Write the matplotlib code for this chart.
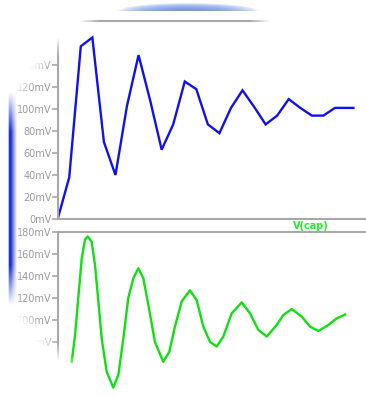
import numpy as np
import matplotlib
matplotlib.use("Agg")
import matplotlib.pyplot as plt

# stepped transient (top pane), values in mV
blue_t = [0, 1, 2, 3, 4, 5, 6, 7, 8, 9, 10, 11, 12, 13, 14, 15, 16, 17, 18, 19,
          20, 21, 22, 23, 24, 25.6]
blue_mv = [0, 38, 157, 165, 70, 40, 103, 149, 108, 63, 86, 125, 118, 86, 78, 101,
           117, 102, 86, 94, 109, 101, 94, 94, 101, 101]

# V(cap) (bottom pane), values in mV
cap_t = [1.21, 1.50, 1.78, 2.08, 2.36, 2.60, 2.94, 3.23, 3.52, 3.81, 4.24, 4.81,
         5.25, 5.68, 6.11, 6.55, 6.98, 7.41, 7.84, 8.42, 9.14, 9.66, 10.15, 10.74,
         11.45, 12.03, 12.61, 13.19, 13.77, 14.34, 15.06, 15.93, 16.65, 17.37,
         18.10, 18.96, 19.53, 20.26, 21.13, 21.85, 22.57, 23.43, 24.16, 24.87]
cap_mv = [62, 86, 120, 156, 173, 176, 171, 150, 117, 83, 53, 38.5, 50, 83, 120,
          138, 147, 138, 114, 80, 62, 71, 94, 117, 127, 118, 94, 80, 76, 85, 106,
          116, 106, 91, 85, 95.5, 104.5, 110, 103, 94, 90, 95.5, 101.5, 105]

top_ticks = [0, 20, 40, 60, 80, 100, 120, 140]
bot_ticks = [40, 60, 80, 100, 120, 140, 160, 180]
trace_name = "V(cap)"

W, H = 366, 397
grey = "#a8a8a8"

fig = plt.figure(figsize=(W / 100, H / 100), dpi=100)
fig.patch.set_facecolor("white")


def style_pane(ax, ticks):
    ax.set_xlim(0, 26.69)
    ax.set_ylim(0, 180)
    ax.set_xticks([])
    ax.set_yticks(ticks)
    ax.set_yticklabels(["%dmV" % v for v in ticks])
    ax.tick_params(axis="y", length=4, width=1.2, color=grey, pad=0.5,
                   labelsize=7, labelcolor="#9a9a9a")
    for s in ax.spines.values():
        s.set_color(grey)
        s.set_linewidth(1.5)
    ax.spines["right"].set_visible(False)


# top pane
ax1 = fig.add_axes([57.7 / W, 1 - 219 / H, 1 - 57.7 / W, 198 / H])
ax1.plot(blue_t, blue_mv, color="#1010f4", lw=1.7, solid_joinstyle="miter")
style_pane(ax1, top_ticks)

# bottom pane
ax2 = fig.add_axes([57.7 / W, 1 - 430 / H, 1 - 57.7 / W, 198 / H])
ax2.plot(cap_t, cap_mv, color="#10e010", lw=1.7, solid_joinstyle="round")
style_pane(ax2, bot_ticks)
ax2.spines["bottom"].set_visible(False)

fig.text(311 / W, 1 - 226 / H, trace_name, color="#22ee22", fontsize=7,
         fontweight="bold", ha="center", va="center")

# soft torn-edge overlay
yy, xx = np.mgrid[0:H, 0:W] + 0.5
knot_y = [0, 21, 48, 65, 87, 105, 300, 321, 343, 365, 380, 397]
knot_x = [100, 80, 45, 32, 14, 2, 2, 20, 38, 62, 78, 95]
xb = np.interp(yy, knot_y, knot_x)
a_left = np.clip((xb + 20 - xx) / 20, 0, 1)
a_tr = np.clip((xx - 250) / 20, 0, 1) * np.clip((30 - yy) / 8, 0, 1)
a_white = np.maximum(a_left, a_tr)

rgba = np.ones((H, W, 4))
rgba[..., 3] = a_white

# blue glow at the top edge
d = ((xx - 188) / 70) ** 2 + ((yy - 11) / 8) ** 2
glow = np.where((d < 1) & (yy < 11), (1 - np.clip(d, 0, 1)) ** 0.7 * 0.85, 0)
line = np.where(np.abs(yy - 10.5) < 1, np.clip(1 - np.abs(xx - 188) / 75, 0, 1) * 0.6, 0)

# blue bar on the left edge
hprof = np.clip((17.5 - xx) / 6.5, 0, 1) ** 1.3 * np.clip((xx - 8) / 1.5, 0, 1)
vprof = np.clip((yy - 92) / 40, 0, 1) * np.clip((305 - yy) / 40, 0, 1)
bar = hprof * vprof * 0.95


def over(img, color, alpha):
    c = np.array(color) / 255.0
    a0 = img[..., 3]
    out_a = alpha + a0 * (1 - alpha)
    safe = np.where(out_a > 0, out_a, 1)
    for k in range(3):
        img[..., k] = (c[k] * alpha + img[..., k] * a0 * (1 - alpha)) / safe
    img[..., 3] = out_a


over(rgba, (95, 135, 228), glow)
over(rgba, (150, 150, 150), line)
over(rgba, (15, 40, 205), bar)

ov = fig.add_axes([0, 0, 1, 1])
ov.imshow(rgba, extent=[0, 1, 0, 1], aspect="auto", interpolation="bilinear")
ov.set_xlim(0, 1)
ov.set_ylim(0, 1)
ov.axis("off")
ov.set_zorder(10)

fig.savefig("out.png", dpi=100)
